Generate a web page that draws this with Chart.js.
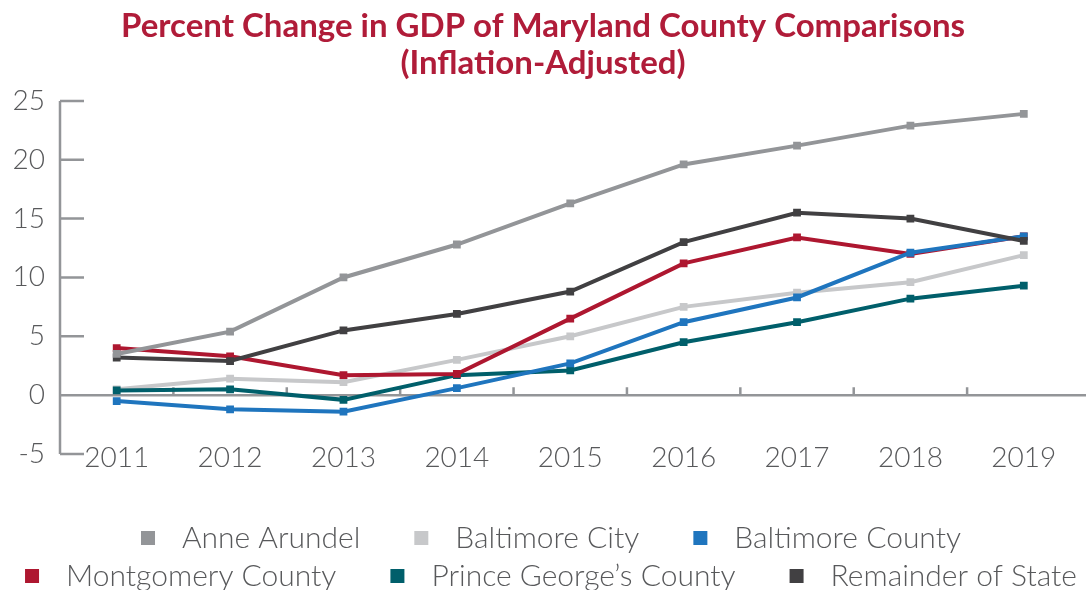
<!DOCTYPE html>
<html>
<head>
<meta charset="utf-8">
<script src="https://cdn.jsdelivr.net/npm/chart.js@4/dist/chart.umd.min.js"></script>
<style>
  body { margin: 0; background: #fff; }
</style>
</head>
<body>
<canvas id="gdpChart" width="1086" height="590"></canvas>
<script>
const years = ['2011', '2012', '2013', '2014', '2015', '2016', '2017', '2018', '2019'];
const yTicks = [-5, 0, 5, 10, 15, 20, 25];

const anneArundel = [3.5, 5.4, 10.0, 12.8, 16.3, 19.6, 21.2, 22.9, 23.9];
const baltimoreCity = [0.5, 1.4, 1.1, 3.0, 5.0, 7.5, 8.7, 9.6, 11.9];
const baltimoreCounty = [-0.5, -1.2, -1.4, 0.6, 2.7, 6.2, 8.3, 12.1, 13.5];
const montgomery = [4.0, 3.3, 1.7, 1.8, 6.5, 11.2, 13.4, 12.0, 13.5];
const princeGeorges = [0.4, 0.5, -0.4, 1.7, 2.1, 4.5, 6.2, 8.2, 9.3];
const remainder = [3.2, 2.9, 5.5, 6.9, 8.8, 13.0, 15.5, 15.0, 13.1];

const seriesNames = ['Anne Arundel', 'Baltimore City', 'Baltimore County',
  'Montgomery County', 'Prince George\u2019s County', 'Remainder of State'];
const seriesColors = ['#939598', '#c7c8ca', '#1f75be', '#ae1730', '#005f6b', '#414042'];
const seriesValues = [anneArundel, baltimoreCity, baltimoreCounty, montgomery, princeGeorges, remainder];
const drawOrder = [0, 5, 2, 3, 4, 1]; // lower = drawn on top

const axisGray = '#939598';
const textGray = '#58595b';

// axis line, inward ticks, zero line and category ticks
const axisMarks = {
  id: 'axisMarks',
  beforeDatasetsDraw(chart) {
    const {ctx, chartArea, scales: {x, y}} = chart;
    const left = chartArea.left;
    ctx.save();
    ctx.strokeStyle = axisGray;
    ctx.lineWidth = 2.5;
    ctx.beginPath();
    ctx.moveTo(left, y.getPixelForValue(25));
    ctx.lineTo(left, y.getPixelForValue(-5));
    yTicks.forEach(v => {
      const py = y.getPixelForValue(v);
      ctx.moveTo(left, py);
      ctx.lineTo(left + 24, py);
    });
    const y0 = y.getPixelForValue(0);
    ctx.moveTo(left, y0);
    ctx.lineTo(chart.width, y0);
    for (let i = 1; i < years.length; i++) {
      const px = (x.getPixelForValue(i - 1) + x.getPixelForValue(i)) / 2;
      ctx.moveTo(px, y0);
      ctx.lineTo(px, y0 - 8);
    }
    ctx.stroke();
    ctx.restore();
  }
};

// two centred legend rows under the axis
const legendRows = [[0, 1, 2], [3, 4, 5]];
const bottomLegend = {
  id: 'bottomLegend',
  afterDraw(chart) {
    const ctx = chart.ctx;
    const box = 14, gap = 27, spacing = 54;
    ctx.save();
    ctx.font = '300 30px Lato';
    ctx.textBaseline = 'middle';
    legendRows.forEach((row, r) => {
      const widths = row.map(i => box + gap + ctx.measureText(seriesNames[i]).width);
      const total = widths.reduce((a, b) => a + b, 0) + spacing * (row.length - 1);
      let px = 551 - total / 2;
      const py = chart.height - 52 + r * 38;
      row.forEach((i, k) => {
        ctx.fillStyle = seriesColors[i];
        ctx.fillRect(px, py - box / 2, box, box);
        ctx.fillStyle = textGray;
        ctx.fillText(seriesNames[i], px + box + gap, py);
        px += widths[k] + spacing;
      });
    });
    ctx.restore();
  }
};

new Chart(document.getElementById('gdpChart'), {
  type: 'line',
  data: {
    labels: years,
    datasets: seriesNames.map((name, i) => ({
      label: name,
      data: seriesValues[i],
      borderColor: seriesColors[i],
      backgroundColor: seriesColors[i],
      borderWidth: 4,
      pointStyle: 'rect',
      pointRadius: 5.5,
      pointBorderWidth: 0,
      tension: 0,
      order: drawOrder[i]
    }))
  },
  options: {
    responsive: false,
    animation: false,
    layout: { padding: { left: 0, right: 0, top: 0, bottom: 136 } },
    plugins: {
      legend: { display: false },
      tooltip: { enabled: false },
      title: {
        display: true,
        text: ['Percent Change in GDP of Maryland County Comparisons', '(Inflation-Adjusted)'],
        color: '#b01c39',
        font: { family: 'Lato', size: 33, weight: 'bold', lineHeight: 1.12 },
        padding: { top: 8, bottom: 19 }
      }
    },
    scales: {
      x: {
        offset: true,
        grid: { display: false },
        border: { display: false },
        ticks: {
          color: textGray,
          font: { family: 'Lato', size: 28, weight: '300', lineHeight: 1.2 },
          mirror: true,
          padding: -21,
          maxRotation: 0
        }
      },
      y: {
        min: -5,
        max: 25,
        afterFit: s => { s.width = 60; },
        grid: { display: false },
        border: { display: false },
        ticks: {
          stepSize: 5,
          color: textGray,
          font: { family: 'Lato', size: 28, weight: '300' },
          padding: 7
        }
      }
    }
  },
  plugins: [axisMarks, bottomLegend]
});
</script>
</body>
</html>
